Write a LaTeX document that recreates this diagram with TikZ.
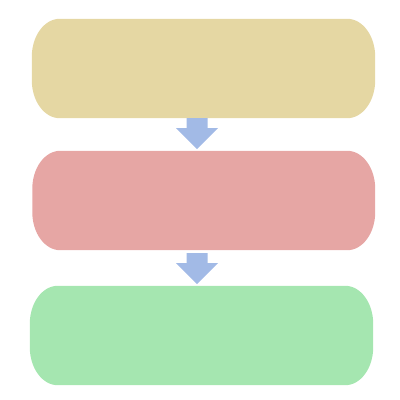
\documentclass[tikz,border=0pt]{standalone}
\usetikzlibrary{calc}
\definecolor{boxyellow}{HTML}{E5D7A3}
\definecolor{boxred}{HTML}{E6A6A4}
\definecolor{boxgreen}{HTML}{A5E6B0}
\definecolor{arrowblue}{HTML}{A2BAE6}
\newcommand{\pillfill}[2]{%
  \fill[#2] ([xshift=28pt]#1.north west) -- ([xshift=-28pt]#1.north east)
    arc[start angle=90,end angle=0,x radius=28pt,y radius=38pt]
    -- ([yshift=38pt]#1.south east)
    arc[start angle=0,end angle=-90,x radius=28pt,y radius=38pt]
    -- ([xshift=28pt]#1.south west)
    arc[start angle=270,end angle=180,x radius=28pt,y radius=38pt]
    -- ([yshift=-38pt]#1.north west)
    arc[start angle=180,end angle=90,x radius=28pt,y radius=38pt]
    -- cycle;}
\newcommand{\blockarrow}[1]{%
  \fill[arrowblue] ([xshift=-10.5pt]#1) -- ++(21pt,0) -- ++(0,-10pt) -- ++(10.5pt,0)
    -- ++(-21pt,-21pt) -- ++(-21pt,21pt) -- ++(10.5pt,0) -- cycle;}
\begin{document}
\begin{tikzpicture}[x=1pt,y=1pt,
  boxnode/.style={rectangle,draw=none,inner sep=0pt,minimum width=343pt,minimum height=99pt}]
\useasboundingbox (0,0) rectangle (400,-400);
\node[boxnode] (b1) at (203.5,-68.5) {};
\node[boxnode,minimum width=342.5pt] (b2) at (203.75,-200.5) {};
\node[boxnode] (b3) at (201.5,-335.5) {};
\pillfill{b1}{boxyellow}
\pillfill{b2}{boxred}
\pillfill{b3}{boxgreen}
\coordinate (a1) at ([xshift=-6.5pt]b1.south);
\coordinate (a2) at ([xshift=-6.75pt,yshift=-3pt]b2.south);
\blockarrow{a1}
\blockarrow{a2}
\end{tikzpicture}
\end{document}
